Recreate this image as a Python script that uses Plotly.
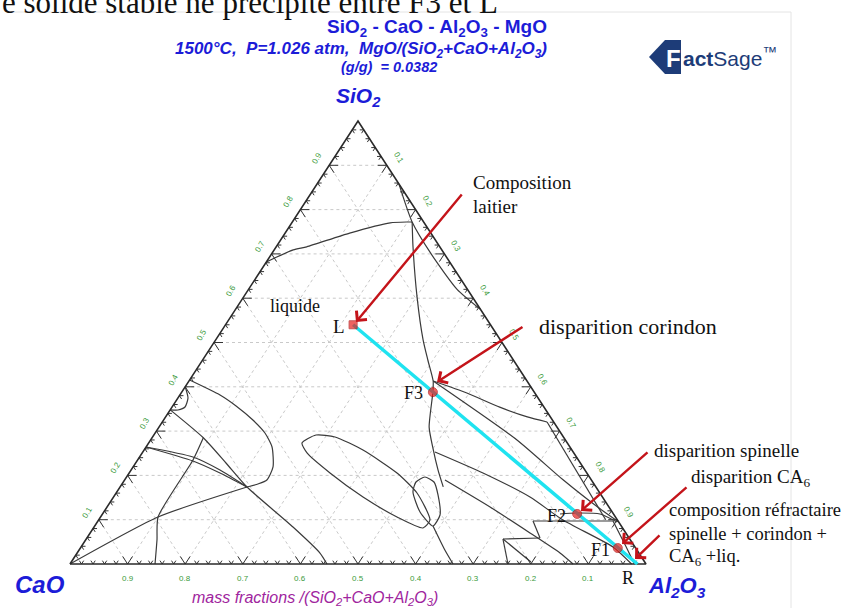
import numpy as np
import plotly.graph_objects as go

# ---------------- data (mass fractions: [SiO2, Al2O3]) ----------------
liquidus_top = [[0.682, 0.0], [0.709, 0.033], [0.716, 0.053], [0.747, 0.112],
                [0.770, 0.171], [0.772, 0.199], [0.772, 0.208]]
liquidus_main = [[0.772, 0.208], [0.716, 0.2375], [0.603, 0.301], [0.506, 0.360],
                 [0.4605, 0.391], [0.413, 0.424], [0.388, 0.436], [0.309, 0.469],
                 [0.262, 0.499], [0.212, 0.533], [0.174, 0.561]]
mullite_strip = [[0.858, 0.142], [0.772, 0.208], [0.70, 0.277], [0.62, 0.362], [0.575, 0.425]]
f3_upper = [[0.413, 0.424], [0.386, 0.496], [0.354, 0.569], [0.332, 0.628], [0.3205, 0.668]]
f3_lower = [[0.413, 0.424], [0.28, 0.636], [0.19, 0.761], [0.129, 0.851], [0.095, 0.905]]
spinel_strip = [[0.3205, 0.668], [0.10, 0.88]]
left_loop = [[0.40, 0.0], [0.3747, 0.0175], [0.3544, 0.0225], [0.3476, 0.0137], [0.348, 0.0]]
left_curve = [[0.4153, 0.0], [0.3815, 0.0697], [0.3567, 0.110], [0.325, 0.155],
              [0.2957, 0.1906], [0.2641, 0.2187], [0.219, 0.243], [0.1896, 0.247],
              [0.1806, 0.236], [0.1738, 0.2204]]
long_line = [[0.348, 0.0], [0.285, 0.089], [0.228, 0.1568], [0.1738, 0.2204],
             [0.0835, 0.3454], [0.0248, 0.4216], [0.0, 0.4462]]
double_line_a = [[0.2641, 0.0], [0.2415, 0.0927], [0.2122, 0.1543], [0.1738, 0.2204]]
double_line_b = [[0.2641, 0.0], [0.2325, 0.0972], [0.2054, 0.1577], [0.1738, 0.2204]]
cross_line = [[0.285, 0.089], [0.2348, 0.0961], [0.1061, 0.0998], [0.0542, 0.1239], [0.0, 0.1476]]
vertex_line = [[0.0, 0.0], [0.1061, 0.0998], [0.1738, 0.2204]]
middle_oval = [[0.2731, 0.2662], [0.2912, 0.2815], [0.2867, 0.3168], [0.2573, 0.38],
               [0.2054, 0.465], [0.1603, 0.5223], [0.0993, 0.5753], [0.0813, 0.5722],
               [0.1061, 0.5147], [0.1512, 0.4331], [0.2054, 0.3487], [0.2506, 0.2862],
               [0.2731, 0.2662]]
small_oval = [[0.1964, 0.518], [0.1851, 0.5394], [0.1558, 0.561], [0.1106, 0.5871],
              [0.0858, 0.5873], [0.1174, 0.549], [0.1625, 0.5142], [0.1851, 0.5081],
              [0.1964, 0.518]]
oval_tail = [[0.0858, 0.5873], [0.0316, 0.635], [0.0, 0.665]]
line_r1 = [[0.2528, 0.5073], [0.2054, 0.6143], [0.1512, 0.723], [0.0993, 0.8062],
           [0.0384, 0.9235], [0.0, 0.975]]
line_r2 = [[0.1896, 0.5562], [0.1287, 0.6649], [0.07, 0.7636], [0.0248, 0.8383], [0.0, 0.8733]]
line_h1 = [[0.0971, 0.7553], [0.0971, 0.8942]]
line_h1_tail = [[0.0971, 0.8942], [0.04, 0.945], [0.0, 0.98]]
curve_f2 = [[0.1129, 0.7943], [0.1151, 0.8209], [0.1129, 0.8637], [0.0948, 0.9023]]
zig_a = [[0.0971, 0.7553], [0.0587, 0.7867]]
line_h2 = [[0.0564, 0.7235], [0.0587, 0.7867]]
zig_b = [[0.0564, 0.7235], [0.0, 0.7604]]
zig_c = [[0.0564, 0.7235], [0.0045, 0.798]]

phase_curves = [liquidus_top, liquidus_main, mullite_strip, f3_upper, f3_lower, spinel_strip,
                left_loop, left_curve, long_line, double_line_a, double_line_b, cross_line,
                vertex_line, middle_oval, small_oval, oval_tail, line_r1, line_r2, line_h1,
                line_h1_tail, curve_f2, zig_a, line_h2, zig_b, zig_c]

path_names = ["L", "F3", "F2", "F1", "R"]
path_sio2 = [0.54, 0.388, 0.113, 0.036, 0.0]
path_al2o3 = [0.2215, 0.436, 0.824, 0.933, 0.985]

tick_values = [round(0.1 * i, 1) for i in range(1, 10)]

# ---------------- geometry helpers ----------------
X0, XW = 70.0, 576.0      # pixel of CaO corner, base width
Y0, YH = 564.0, 443.0     # pixel of base, triangle height
W, H = 843, 608


def to_xy(points):
    s = np.array([p[0] for p in points], dtype=float)
    a = np.array([p[1] for p in points], dtype=float)
    return a + s / 2.0, s


def P(px, py):
    return (px - X0) / XW, (Y0 - py) / YH


def seg_trace(segs, color, width, dash=None):
    xs, ys = [], []
    for (x1, y1, x2, y2) in segs:
        xs += [x1, x2, None]
        ys += [y1, y2, None]
    return go.Scatter(x=xs, y=ys, mode="lines", hoverinfo="skip", showlegend=False,
                      line=dict(color=color, width=width, dash=dash))


fig = go.Figure()

# grid lines (dashed)
grid = []
for v in tick_values:
    grid.append((v / 2, v, 1 - v / 2, v))
    grid.append((v, 0, v + (1 - v) / 2, 1 - v))
    grid.append((1 - v, 0, (1 - v) / 2, 1 - v))
fig.add_trace(seg_trace(grid, "#c9c9c9", 1, "3px,3px"))

# ticks
t_unit = 1.0 / np.hypot(0.5 * XW, YH)
ticks = []
for i in range(1, 50):
    f = i * 0.02
    L = 9.0 if i % 5 == 0 else 4.0
    t = L * t_unit
    h = L / XW
    ticks += [(f, 0, f + 0.5 * t, t), (f, 0, f - 0.5 * t, t)]
    ticks += [(f / 2, f, f / 2 + h, f), (f / 2, f, f / 2 + 0.5 * t, f - t)]
    ticks += [(1 - f / 2, f, 1 - f / 2 - h, f), (1 - f / 2, f, 1 - f / 2 - 0.5 * t, f - t)]
fig.add_trace(seg_trace(ticks, "#333333", 1))

# phase boundaries
for c in phase_curves:
    x, y = to_xy(c)
    fig.add_trace(go.Scatter(x=x, y=y, mode="lines", hoverinfo="skip", showlegend=False,
                             line=dict(color="#3a3a3a", width=1.2, shape="spline", smoothing=0.6)))

# triangle frame
fig.add_trace(go.Scatter(x=[0, 1, 0.5, 0], y=[0, 0, 1, 0], mode="lines", hoverinfo="skip",
                         showlegend=False, line=dict(color="#2a2a2a", width=1.6)))

# path L -> R (cyan)
px_, py_ = to_xy([[path_sio2[0], path_al2o3[0]], [path_sio2[-1], path_al2o3[-1]]])
fig.add_trace(go.Scatter(x=px_, y=py_, mode="lines", showlegend=False, hoverinfo="skip",
                         line=dict(color="#1fe3f0", width=3.5)))
mx, my = to_xy([[s, a] for s, a in zip(path_sio2[:4], path_al2o3[:4])])
fig.add_trace(go.Scatter(x=mx, y=my, mode="markers", showlegend=False, hoverinfo="skip",
                         marker=dict(color="#e8201c", size=[8, 9, 9, 9],
                                     symbol=["square", "circle", "circle", "circle"],
                                     line=dict(color="#b01010", width=1))))

ann = []
green = "#3a9a3a"
nrm = 14.0
for v in tick_values:
    ann.append(dict(x=v, y=-nrm / YH, text=f"{1 - v:.1f}", showarrow=False,
                    font=dict(size=8, color=green, family="Arial")))
    x, y = v / 2, v
    ann.append(dict(x=x - 0.838 * nrm / XW, y=y + 0.545 * nrm / YH, text=f"{v:.1f}",
                    showarrow=False, textangle=-60, font=dict(size=8, color=green, family="Arial")))
    x, y = 1 - (1 - v) / 2, 1 - v
    ann.append(dict(x=x + 0.838 * nrm / XW, y=y + 0.545 * nrm / YH, text=f"{v:.1f}",
                    showarrow=False, textangle=60, font=dict(size=8, color=green, family="Arial")))


def txt(px, py, text, size, color="#111111", family="Liberation Serif", xanchor="left",
        yanchor="middle", **kw):
    x, y = P(px, py)
    ann.append(dict(x=x, y=y, text=text, showarrow=False, xanchor=xanchor, yanchor=yanchor,
                    font=dict(size=size, color=color, family=family), **kw))


blue = "#1c1cd8"
navy = "#1d3c78"
txt(0, 2, "e solide stable ne précipite entre F3 et L", 31)
txt(437, 28, "<b>SiO<sub>2</sub> - CaO - Al<sub>2</sub>O<sub>3</sub> - MgO</b>", 19, blue,
    "Liberation Sans", "center")
txt(361, 50, "<b><i>1500°C,  P=1.026 atm,  MgO/(SiO<sub>2</sub>+CaO+Al<sub>2</sub>O<sub>3</sub>)</i></b>",
    17, blue, "Liberation Sans", "center")
txt(389, 67, "<b><i>(g/g)  = 0.0382</i></b>", 14.5, blue, "Liberation Sans", "center")
txt(358, 97, "<b><i>SiO<sub>2</sub></i></b>", 21, blue, "Liberation Sans", "center")
txt(40, 584, "<b><i>CaO</i></b>", 24, blue, "Liberation Sans", "center")
txt(677, 587, "<b><i>Al<sub>2</sub>O<sub>3</sub></i></b>", 22, blue, "Liberation Sans", "center")
txt(315, 598, "<i>mass fractions /(SiO<sub>2</sub>+CaO+Al<sub>2</sub>O<sub>3</sub>)</i>", 16,
    "#a0259e", "Liberation Sans", "center")

# FactSage logo (text on a small badge)
lx0, ly0 = P(649, 57)
lx1, ly1 = P(665, 40)
lx2, ly2 = P(681, 40)
lx3, ly3 = P(681, 74)
lx4, ly4 = P(665, 74)
logo_shape = dict(type="path", xref="x", yref="y", fillcolor=navy, line=dict(width=0),
                  path=f"M{lx0},{ly0} L{lx1},{ly1} L{lx2},{ly2} L{lx3},{ly3} L{lx4},{ly4} Z")
txt(673, 58, "<b>F</b>", 24, "white", "Liberation Sans", "center")
txt(681, 57, "<b>act</b>Sage<sup>™</sup>", 21, navy, "Liberation Sans", "left")

txt(471, 182, "Composition", 19)
txt(471, 206, "laitier", 19)
txt(268, 306, "liquide", 18)
txt(347, 326, "L", 19, xanchor="right")
txt(537, 326, "disparition corindon", 22)
txt(425, 393, "F3", 18, xanchor="right")
txt(652, 450, "disparition spinelle", 19)
txt(689, 478, "disparition CA<sub>6</sub>", 19)
txt(667, 510, "composition réfractaire", 18.5)
txt(667, 534, "spinelle + corindon +", 18.5)
txt(667, 557, "CA<sub>6</sub> +liq.", 18.5)
txt(568, 516, "F2", 18, xanchor="right")
txt(612, 550, "F1", 18, xanchor="right")
txt(628, 578, "R", 18, xanchor="center")


def arrow(tail, head):
    hx, hy = P(*head)
    tx, ty = P(*tail)
    ann.append(dict(x=hx, y=hy, ax=tx, ay=ty, axref="x", ayref="y", xref="x", yref="y",
                    text="", showarrow=True, arrowhead=4, arrowsize=1.1, arrowwidth=2.4,
                    arrowcolor="#c4141a"))


arrow((463, 193), (356, 322))
arrow((524, 326), (437, 382))
arrow((649, 451), (581, 511))
arrow((688, 486), (622, 544))
arrow((661, 534), (635, 559))

# faint slide frame
fx0, fy0 = P(10, 12)
fx1, fy1 = P(791, 608)
frame = [dict(type="line", xref="x", yref="y", x0=fx0, y0=fy0, x1=fx1, y1=fy0,
              line=dict(color="#e4e4e4", width=1)),
         dict(type="line", xref="x", yref="y", x0=fx1, y0=fy0, x1=fx1, y1=fy1,
              line=dict(color="#e4e4e4", width=1))]

fig.update_layout(
    width=W, height=H, margin=dict(l=0, r=0, t=0, b=0),
    paper_bgcolor="white", plot_bgcolor="white",
    xaxis=dict(range=[(0 - X0) / XW, (W - X0) / XW], visible=False, fixedrange=True),
    yaxis=dict(range=[(Y0 - H) / YH, Y0 / YH], visible=False, fixedrange=True),
    annotations=ann, shapes=[logo_shape] + frame, showlegend=False,
)
fig.write_html("out.html", config={"displayModeBar": False},
               post_script="document.body.style.margin='0px';document.body.style.padding='0px';")
